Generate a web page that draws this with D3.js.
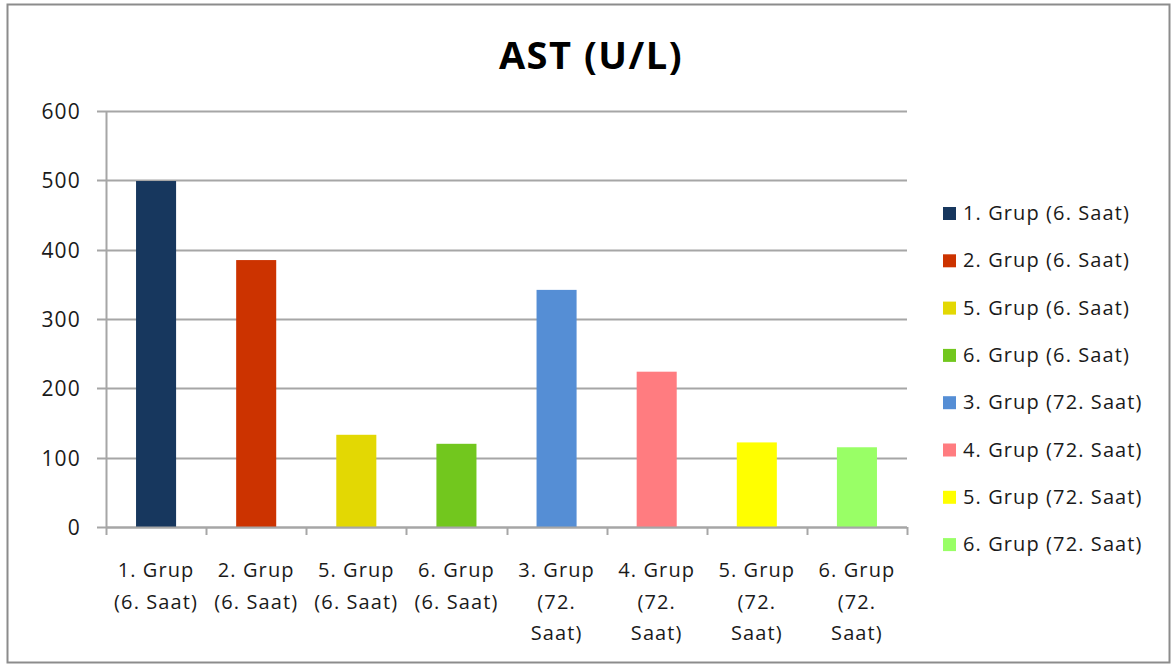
<!DOCTYPE html>
<html>
<head>
<meta charset="utf-8">
<script src="https://cdn.jsdelivr.net/npm/d3@7"></script>
<style>
  html, body { margin: 0; padding: 0; background: #fff; }
  svg { display: block; }
  text { font-family: "Open Sans", Lato, "Liberation Sans", sans-serif; fill: #1a1a1a; }
</style>
</head>
<body>
<script>
// AST (U/L) by group and sampling time
const categories = [
  ["1. Grup", "(6. Saat)"],
  ["2. Grup", "(6. Saat)"],
  ["5. Grup", "(6. Saat)"],
  ["6. Grup", "(6. Saat)"],
  ["3. Grup", "(72.", "Saat)"],
  ["4. Grup", "(72.", "Saat)"],
  ["5. Grup", "(72.", "Saat)"],
  ["6. Grup", "(72.", "Saat)"]
];
const seriesNames = [
  "1. Grup (6. Saat)", "2. Grup (6. Saat)", "5. Grup (6. Saat)", "6. Grup (6. Saat)",
  "3. Grup (72. Saat)", "4. Grup (72. Saat)", "5. Grup (72. Saat)", "6. Grup (72. Saat)"
];
const values = [499, 385, 133, 120, 342, 224, 122, 115];
const colors = ["#17375E", "#CC3300", "#E3D803", "#72C71E", "#558ED5", "#FF7C80", "#FFFF00", "#99FF66"];
const yTicks = [0, 100, 200, 300, 400, 500, 600];
const title = "AST (U/L)";

const W = 1176, H = 664;
const plot = { left: 106, right: 907, top: 111, bottom: 527 };

const svg = d3.select("body").append("svg").attr("width", W).attr("height", H);

// outer chart frame
svg.append("rect").attr("x", 7.5).attr("y", 4.5).attr("width", W - 14).attr("height", H - 6)
  .attr("fill", "#fff").attr("stroke", "#8c8c8c").attr("stroke-width", 2);

svg.append("text").attr("x", 591).attr("y", 69).attr("text-anchor", "middle")
  .style("font-size", "38px").style("font-weight", "bold").style("letter-spacing", "1.5px")
  .style("fill", "#000").text(title);

const x = d3.scaleBand().domain(d3.range(categories.length))
  .range([plot.left, plot.right]).paddingInner(0.6).paddingOuter(0.3);
const xOuter = d3.scaleBand().domain(d3.range(categories.length)).range([plot.left, plot.right]);
const y = d3.scaleLinear().domain([0, 600]).range([plot.bottom, plot.top]);

// horizontal gridlines with left tick marks
const gridColor = "#a6a6a6";
svg.append("g").selectAll("line").data(yTicks).join("line")
  .attr("x1", plot.left - 9).attr("x2", plot.right)
  .attr("y1", d => Math.round(y(d)) + 0.5).attr("y2", d => Math.round(y(d)) + 0.5)
  .attr("stroke", gridColor).attr("stroke-width", 2);

svg.append("g").selectAll("text").data(yTicks).join("text")
  .attr("x", 81).attr("y", d => y(d) + 8).attr("text-anchor", "end")
  .style("font-size", "21px").style("letter-spacing", "1.2px").text(d => d);

// y axis line
svg.append("line").attr("x1", plot.left + 0.5).attr("x2", plot.left + 0.5)
  .attr("y1", plot.top).attr("y2", plot.bottom + 1).attr("stroke", gridColor).attr("stroke-width", 2);

// bars
svg.append("g").selectAll("rect").data(values).join("rect")
  .attr("x", (d, i) => x(i)).attr("width", x.bandwidth())
  .attr("y", d => y(d)).attr("height", d => y(0) - y(d))
  .attr("fill", (d, i) => colors[i]);

// x axis baseline and category tick marks
svg.append("line").attr("x1", plot.left).attr("x2", plot.right)
  .attr("y1", plot.bottom + 0.5).attr("y2", plot.bottom + 0.5)
  .attr("stroke", gridColor).attr("stroke-width", 2);
const bounds = d3.range(categories.length + 1).map(i => i < categories.length ? xOuter(i) : plot.right);
svg.append("g").selectAll("line").data(bounds).join("line")
  .attr("x1", d => Math.round(d) + 0.5).attr("x2", d => Math.round(d) + 0.5)
  .attr("y1", plot.bottom).attr("y2", plot.bottom + 8)
  .attr("stroke", gridColor).attr("stroke-width", 2);

// wrapped category labels
const lab = svg.append("g").selectAll("text").data(categories).join("text")
  .attr("text-anchor", "middle").style("font-size", "20px").style("letter-spacing", "1.1px")
  .attr("transform", (d, i) => `translate(${xOuter(i) + xOuter.bandwidth() / 2},577)`);
lab.selectAll("tspan").data(d => d).join("tspan")
  .attr("x", 0).attr("dy", (d, j) => j === 0 ? 0 : 31.5).text(d => d);

// legend
const leg = svg.append("g").selectAll("g").data(seriesNames).join("g")
  .attr("transform", (d, i) => `translate(943,${213 + i * 47.3})`);
leg.append("rect").attr("x", 0).attr("y", -6).attr("width", 13).attr("height", 13)
  .attr("fill", (d, i) => colors[i]);
leg.append("text").attr("x", 20).attr("y", 7).style("font-size", "20px")
  .style("letter-spacing", "1.1px").text(d => d);
</script>
</body>
</html>
